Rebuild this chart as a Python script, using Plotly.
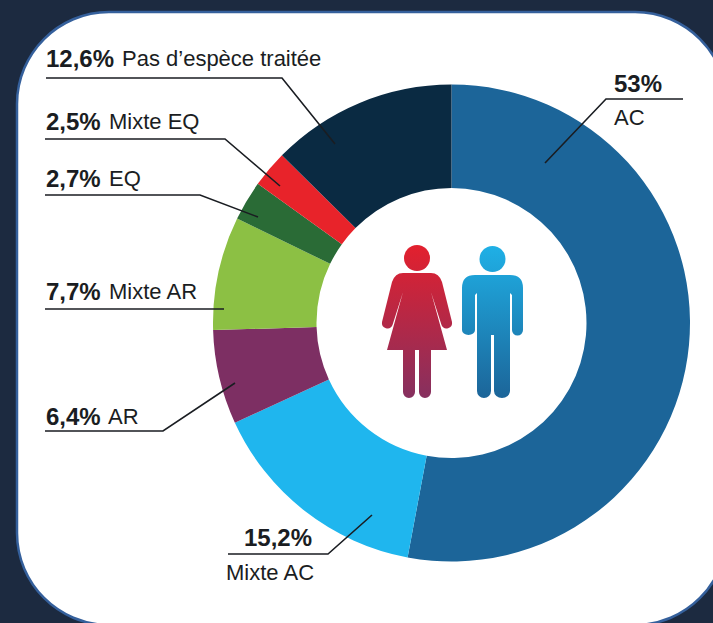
import base64
import plotly.graph_objects as go

W, H = 713, 623
categories = ["AC", "Mixte AC", "AR", "Mixte AR", "EQ", "Mixte EQ", "Pas d'espèce traitée"]
values = [53, 15.2, 6.4, 7.7, 2.7, 2.5, 12.6]
colors = ["#1c6599", "#1fb6ee", "#7d2f63", "#8cc044", "#2a6b36", "#e8232a", "#0a2a42"]

CX, CY, R = 451.5, 323, 238.5
HOLE = 135 / 238.5

def px(x): return x / W
def py(y): return 1 - y / H

svg = """<svg xmlns='http://www.w3.org/2000/svg' width='220' height='200' viewBox='0 0 220 200'>
<defs>
<linearGradient id='f' gradientUnits='userSpaceOnUse' x1='0' y1='26' x2='0' y2='178'><stop offset='0' stop-color='#e2202e'/><stop offset='1' stop-color='#86305f'/></linearGradient>
<linearGradient id='m' gradientUnits='userSpaceOnUse' x1='0' y1='26' x2='0' y2='178'><stop offset='0' stop-color='#1fb0e6'/><stop offset='1' stop-color='#1c6599'/></linearGradient>
</defs>
<g fill='url(#f)'>
<circle cx='77' cy='38' r='13'/>
<path d='M63 53 H91 Q99 53 102 62 L112 102 A5.5 5.5 0 0 1 101.5 105 L91 72 L107 130 H91 V172 A6 6 0 0 1 79 172 V130 H75 V172 A6 6 0 0 1 63 172 V130 H47 L63 72 L52.5 105 A5.5 5.5 0 0 1 42 102 L52 62 Q55 53 63 53 Z'/>
</g>
<g fill='url(#m)'>
<circle cx='152.5' cy='39' r='13'/>
<path d='M135 55 H170 Q183 55 183 68 V110 A5.5 5.5 0 0 1 172 110 V75 L170 73 V171 A8 7 0 0 1 154 171 V115 H151 V171 A7 7 0 0 1 137 171 V73 L135 75 V110 A6.5 5 0 0 1 122 110 V68 Q122 55 135 55 Z'/>
</g>
</svg>"""
icon = "data:image/svg+xml;base64," + base64.b64encode(svg.encode()).decode()

fig = go.Figure(go.Pie(
    values=values, labels=categories, sort=False, direction="clockwise", rotation=0,
    hole=HOLE, textinfo="none", hoverinfo="label+percent", showlegend=False,
    marker=dict(colors=colors, line=dict(width=0)),
    domain=dict(x=[px(CX - R), px(CX + R)], y=[py(CY + R), py(CY - R)]),
))

# leader lines: polyline pixel positions
leaders = [
    [(46, 78), (282, 78), (335, 144)],
    [(45, 139), (225, 139), (280, 186)],
    [(45, 195), (200, 195), (258, 217)],
    [(45, 309), (224, 309)],
    [(45, 431), (163, 431), (235, 383)],
    [(228, 554), (328, 554), (372, 515)],
    [(683, 99), (606, 99), (545, 163)],
]

# rounded panel
L, T, Rt, B, C = 17, 12, 727, 625, 92
panel = (f"M{px(L)} {py(T+C)} C{px(L)} {py(T+C*0.45)} {px(L+C*0.45)} {py(T)} {px(L+C)} {py(T)} "
         f"L{px(Rt-C)} {py(T)} C{px(Rt-C*0.45)} {py(T)} {px(Rt)} {py(T+C*0.45)} {px(Rt)} {py(T+C)} "
         f"L{px(Rt)} {py(B-C)} C{px(Rt)} {py(B-C*0.45)} {px(Rt-C*0.45)} {py(B)} {px(Rt-C)} {py(B)} "
         f"L{px(L+C)} {py(B)} C{px(L+C*0.45)} {py(B)} {px(L)} {py(B-C*0.45)} {px(L)} {py(B-C)} Z")
shapes = [dict(type="path", xref="paper", yref="paper", path=panel, fillcolor="#ffffff",
               line=dict(color="#35609c", width=2.5), layer="below")]
for pts in leaders:
    p = "M" + " L".join(f"{px(a)} {py(b)}" for a, b in pts)
    shapes.append(dict(type="path", xref="paper", yref="paper", path=p,
                       line=dict(color="#1a1d22", width=1.6), layer="above"))

FONT = "Liberation Sans"
# text, x, y (centre), bold
texts = [
    ("12,6%", 46, 59, True), ("Pas d’espèce traitée", 122, 59, False),
    ("2,5%", 46, 122, True), ("Mixte EQ", 109, 122, False),
    ("2,7%", 46, 178, True), ("EQ", 109, 178, False),
    ("7,7%", 46, 291, True), ("Mixte AR", 109, 291, False),
    ("6,4%", 46, 416, True), ("AR", 108, 416, False),
    ("15,2%", 244, 537, True), ("Mixte AC", 226, 572, False),
    ("53%", 614, 83, True), ("AC", 614, 117, False),
]
ann = [dict(text=f"<b>{t}</b>" if b else t, x=px(x), y=py(y), xref="paper", yref="paper",
            xanchor="left", yanchor="middle", showarrow=False,
            borderpad=0, borderwidth=0,
            font=dict(family=FONT, size=24 if b else 22, color="#1a1d22"))
       for t, x, y, b in texts]

fig.update_layout(
    width=W, height=H, autosize=False, margin=dict(l=0, r=0, t=0, b=0),
    paper_bgcolor="#1c2a40", plot_bgcolor="#1c2a40",
    shapes=shapes, annotations=ann,
    images=[dict(source=icon, xref="paper", yref="paper", x=px(340), y=py(220),
                 sizex=220 / W, sizey=200 / H, xanchor="left", yanchor="top",
                 sizing="stretch", layer="above")],
)
fig.write_html("out.html", config=dict(displayModeBar=False),
               post_script="document.body.style.margin='0';document.body.style.overflow='hidden';")
